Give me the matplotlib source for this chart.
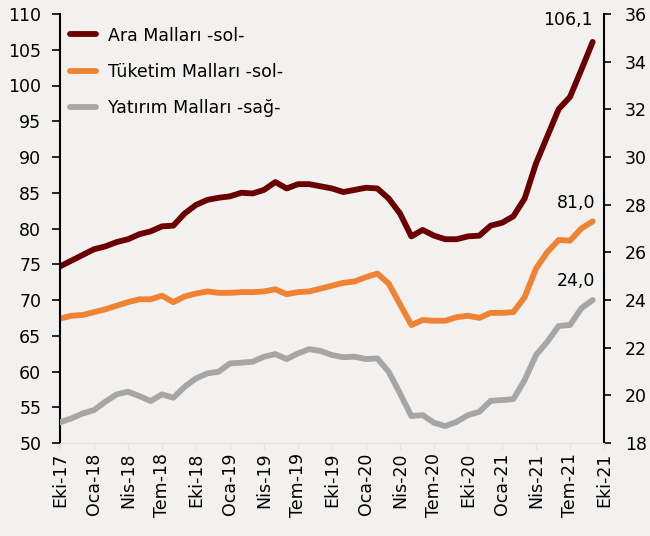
import numpy as np
import matplotlib.pyplot as plt

# monthly data, Eki-17 .. Eyl-21
ara = [74.7, 75.5, 76.3, 77.1, 77.5, 78.1, 78.5, 79.2, 79.6, 80.3, 80.4, 82.1,
       83.3, 84.0, 84.3, 84.5, 85.0, 84.9, 85.4, 86.5, 85.6, 86.2, 86.2, 85.9,
       85.6, 85.1, 85.4, 85.7, 85.6, 84.2, 82.1, 78.9, 79.8, 79.0, 78.5, 78.5,
       78.9, 79.0, 80.4, 80.8, 81.7, 84.2, 89.1, 92.9, 96.7, 98.4, 102.2, 106.1]
tuketim = [67.4, 67.8, 67.9, 68.3, 68.7, 69.2, 69.7, 70.1, 70.1, 70.6, 69.7, 70.5,
           70.9, 71.2, 71.0, 71.0, 71.1, 71.1, 71.2, 71.5, 70.8, 71.1, 71.2, 71.6,
           72.0, 72.4, 72.6, 73.2, 73.7, 72.3, 69.4, 66.5, 67.2, 67.1, 67.1, 67.6,
           67.8, 67.5, 68.2, 68.2, 68.3, 70.4, 74.4, 76.7, 78.4, 78.3, 80.0, 81.0]
yatirim = [18.87, 19.03, 19.24, 19.38, 19.73, 20.04, 20.15, 19.97, 19.76, 20.04, 19.90, 20.36,
           20.71, 20.92, 20.99, 21.34, 21.37, 21.41, 21.62, 21.73, 21.52, 21.76, 21.94, 21.86,
           21.69, 21.60, 21.62, 21.52, 21.55, 20.99, 20.08, 19.13, 19.17, 18.85, 18.71, 18.89,
           19.17, 19.31, 19.77, 19.80, 19.84, 20.64, 21.69, 22.25, 22.91, 22.95, 23.65, 24.0]

xlabels = ['Eki-17', 'Oca-18', 'Nis-18', 'Tem-18', 'Eki-18', 'Oca-19', 'Nis-19', 'Tem-19',
           'Eki-19', 'Oca-20', 'Nis-20', 'Tem-20', 'Eki-20', 'Oca-21', 'Nis-21', 'Tem-21', 'Eki-21']

c_ara = '#6B0000'
c_tuk = '#F08233'
c_yat = '#A6A6A6'
bg = '#F2F1EF'

plt.rcParams['font.family'] = 'DejaVu Sans'
fig = plt.figure(figsize=(6.5, 5.36), dpi=100, facecolor=bg)
ax = fig.add_axes([60/650, 1 - 443/536, 544/650, 429/536], facecolor=bg)
ax2 = ax.twinx()

x = np.arange(len(ara))
l1, = ax.plot(x, ara, color=c_ara, lw=4.2, solid_capstyle='round', solid_joinstyle='round')
l2, = ax.plot(x, tuketim, color=c_tuk, lw=4.2, solid_capstyle='round', solid_joinstyle='round')
l3, = ax2.plot(x, yatirim, color=c_yat, lw=4.2, solid_capstyle='round', solid_joinstyle='round')

ax.set_xlim(0, 48)
ax.set_ylim(50, 110)
ax.set_yticks(np.arange(50, 111, 5))
ax2.set_ylim(18, 36)
ax2.set_yticks(np.arange(18, 37, 2))

ax.set_xticks(np.arange(0, 49, 3))
ax.set_xticklabels(xlabels, rotation=90)

for a in (ax, ax2):
    a.spines['top'].set_visible(False)
    a.spines['bottom'].set_color('#E2E0DE')
ax.spines['right'].set_visible(False)
ax.spines['left'].set_linewidth(1.5)
ax2.spines['left'].set_visible(False)
ax2.spines['right'].set_linewidth(1.5)

ax.tick_params(axis='y', labelsize=12.5, length=5.5, width=1.2, pad=8)
ax2.tick_params(axis='y', labelsize=12.5, length=5, width=1.2, pad=10)
ax.tick_params(axis='x', labelsize=12.5, length=4, color='#E2E0DE', pad=3)

ax.annotate('106,1', (47, ara[-1]), xytext=(0, 9), textcoords='offset points',
            ha='right', va='bottom', fontsize=12.5)
ax.annotate('81,0', (47, tuketim[-1]), xytext=(2, 7), textcoords='offset points',
            ha='right', va='bottom', fontsize=12.5)
ax2.annotate('24,0', (47, yatirim[-1]), xytext=(2, 7), textcoords='offset points',
             ha='right', va='bottom', fontsize=12.5)

ax.legend([l1, l2, l3], ['Ara Malları -sol-', 'Tüketim Malları -sol-', 'Yatırım Malları -sağ-'],
          loc='upper left', frameon=False, fontsize=12.5, handlelength=1.45,
          handletextpad=0.7, borderaxespad=0.2, labelspacing=1.05,
          bbox_to_anchor=(0.0, 0.995))

fig.savefig('out.png', dpi=100, facecolor=bg)
